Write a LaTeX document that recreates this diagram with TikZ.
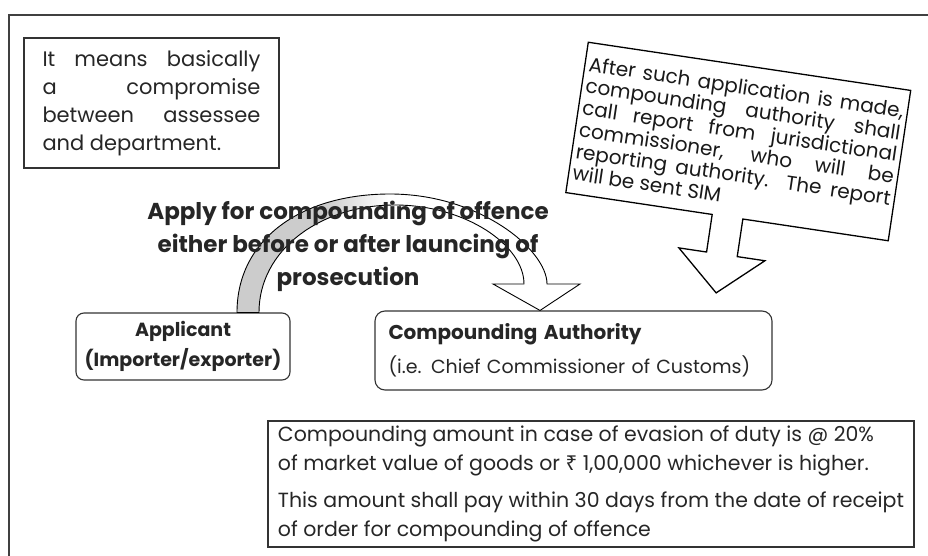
\documentclass[tikz,border=0pt]{standalone}
\usepackage{fontspec}
\setmainfont{Poppins}
\newfontfamily\rupeefont{Noto Sans}
\usetikzlibrary{calc}

% grey fading into white along the curved block arrow
\pgfdeclarehorizontalshading{arcfade}{100bp}{color(0bp)=(gray!40); color(38bp)=(gray!40); color(47bp)=(white); color(100bp)=(white)}

\tikzset{
  boxtxt/.style={draw=black!80, line width=1.1pt, text=black!85, inner sep=0pt},
  roundbox/.style={boxtxt, rounded corners=8pt},
}

\begin{document}
\begin{tikzpicture}[x=1pt, y=-1pt]
  \useasboundingbox (0,0) rectangle (928,556);

  % Outer frame (cut by the page)
  \draw[line width=1.6pt, black!75] (928,15) -- (9,15) -- (9,556);

  % Meaning
  \node[boxtxt, minimum width=255pt, minimum height=130pt, text width=218pt, align=justify,
        font=\fontsize{21}{28}\selectfont] (meaning) at (151.5,103)
        {It means basically\linebreak a compromise\linebreak between assessee\linebreak and department.};

  % Parties
  \node[roundbox, minimum width=214pt, minimum height=67pt, align=center,
        font=\bfseries\fontsize{19}{30}\selectfont] (app) at (183,346.5)
        {Applicant\\(Importer/exporter)};
  \node[roundbox, rounded corners=10pt, minimum width=397pt, minimum height=79pt, text width=370pt,
        align=left, font=\fontsize{19}{34}\selectfont] (ca) at (573.5,350.5)
        {{\bfseries\fontsize{20}{34}\selectfont Compounding Authority}\\(i.e. Chief Commissioner of Customs)};

  % Curved block arrow from applicant to authority
  \shadedraw[shading=arcfade, line width=0.9pt]
    (237,0 |- app.north) .. controls (237,240) and (300,194) .. (390,194)
    .. controls (480,194) and (547,250) .. (547,284) -- (580,284) -- (540,0 |- ca.north)
    -- (493,284) -- (524,284) .. controls (524,245) and (465,205) .. (395,205)
    .. controls (320,205) and (259,250) .. (259,0 |- app.north) -- cycle;
  \node[text=black!85, font=\bfseries\fontsize{23}{33}\selectfont, align=center] (applylbl) at (348,246)
        {Apply for compounding of offence\\either before or after launcing of\\prosecution};

  % Report callout
  \begin{scope}[shift={(738.25,141.5)}, rotate=-8.5]
    \draw[line width=1.3pt, fill=white] (-163,-76) -- (163,-76) -- (163,76) -- (16,76) -- (16,114)
      -- (44,114) -- (0.5,153) -- (-43,114) -- (-15,114) -- (-15,76) -- (-163,76) -- cycle;
    \node[transform shape, inner sep=0pt, text width=318pt, align=justify, text=black!90,
          font=\fontsize{20}{22}\selectfont] (report) at (0,0)
          {After such application is made,\linebreak compounding authority shall\linebreak call report from jurisdictional\linebreak commissioner, who will be\linebreak reporting authority. The report\linebreak will be sent SIM};
  \end{scope}

  % Amount
  \node[boxtxt, minimum width=646pt, minimum height=126pt, align=left,
        font=\fontsize{20.5}{29}\selectfont] (amount) at (591,484)
        {Compounding amount in case of evasion of duty is @ 20\%\\of market value of goods or {\rupeefont ₹} 1,00,000 whichever is higher.\\[8pt]This amount shall pay within 30 days from the date of receipt\\of order for compounding of offence};
\end{tikzpicture}
\end{document}
